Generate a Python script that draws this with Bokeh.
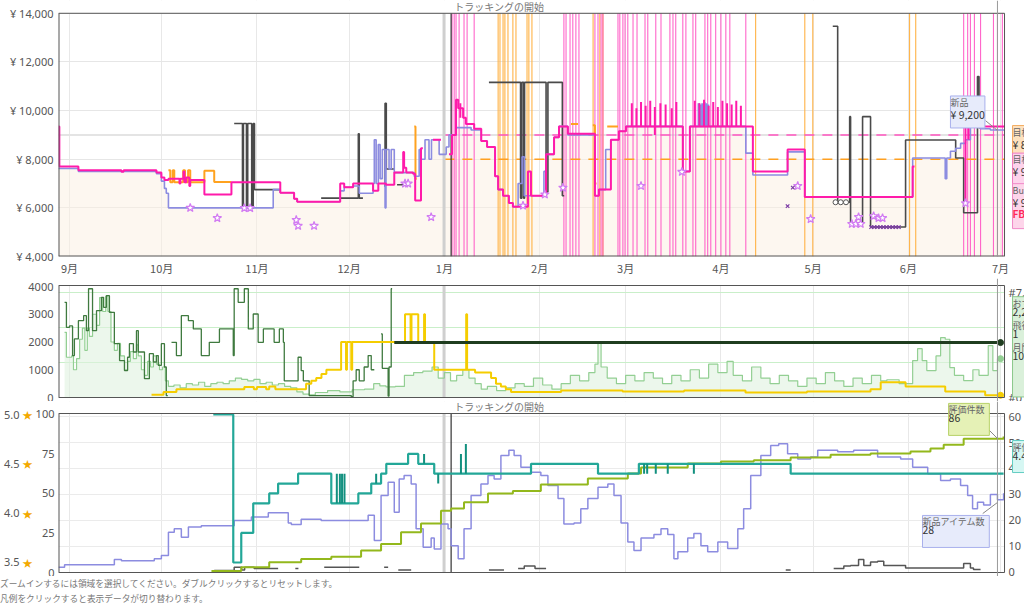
import pandas as pd
from bokeh.plotting import figure
from bokeh.layouts import column
from bokeh.models import (Range1d, FixedTicker, Label, Grid, Span, BoxAnnotation, LinearAxis,
                          CustomJSTickFormatter, Div)
from bokeh.embed import file_html
from bokeh.resources import INLINE

nan = float("nan")

# ---------------- time axis ----------------
month_labels = ["9月", "10月", "11月", "12月", "1月", "2月", "3月", "4月", "5月", "6月", "7月"]
month_starts = pd.date_range("2022-09-01", "2023-07-01", freq="MS")
month_days = [int((d - month_starts[0]).days) for d in month_starts]
X_START, X_FRAME_END, X_CANVAS_END = -3.576, 304.3, 310.8
tracking_gray_day = 121.9
tracking_day = 124.2
cursor_day = 302.0
target_start_day = 122.0

# ---------------- price panel ----------------
price_ticks = [4000, 6000, 8000, 10000, 12000, 14000]
target_buybox = 9000
target_amazon = 8000

bb_day = [-3.6, -3.3, 2.9, 16.9, 17.6, 28.3, 29.9, 30.9, 32.2, 35.8, 36.1, 37.1, 37.4, 38.0, 39.0, 39.3,
          43.9, 52.7, 68.6, 73.1, 74.1, 88.1, 89.4, 92.3, 98.8, 100.5, 103.0, 105.7, 108.6, 108.9, 109.6,
          111.8, 112.5, 114.4, 115.0, 118.3, 120.9, 123.5, 124.5, 125.8, 126.5, 128.1, 129.0, 131.7, 134.0,
          135.9, 138.5, 139.5, 141.1, 143.0, 144.3, 149.2, 150.2, 155.1, 157.7, 159.3, 162.2, 171.0, 172.3,
          176.2, 178.8, 181.1, 199.6, 201.9, 220.1, 222.4, 233.7, 239.3, 274.4, 275.0, 291.0, 291.6, 304.3]
bb_price = [9350, 7700, 7550, 7480, 7550, 7450, 7250, 7150, 7200, 7000, 7200, 7500, 7050, 7250, 6900, 7150,
            6550, 7050, 6620, 6370, 6250, 7000, 6850, 7000, 6700, 7000, 6950, 7450, 8300, 7650, 7450,
            7400, 6300, 8450, nan, 8800, nan, 8200, 9000, 10450, 10100, 9700, 9450, 9250, 8750,
            8500, 7300, 6750, 6500, 6200, 6050, 7500, 6500, 8200, 8900, 9350, 9050, 6500, 6750,
            8800, 9150, 9350, 7500, 9350, 9350, 7500, 8400, 6450, 7700, nan, 6200, 9350, 9350]
bb_spike_day = [127.2, 183.0, 184.5, 186.0, 187.5, 189.0, 190.5, 192.3, 194.0, 196.0, 197.5, 203.5, 205.0,
                206.5, 208.0, 209.5, 211.0, 212.5, 214.0, 215.5, 217.0, 218.5, 292.6]
bb_spike_low = [9700, 9350, 9350, 9350, 9350, 9350, 9000, 9350, 9350, 9350, 9350, 9350, 9350,
                9350, 9350, 9350, 9350, 9350, 9350, 9350, 9350, 9350, 8800]
bb_spike_high = [10300, 10300, 10100, 10350, 10200, 10400, 10150, 10300, 10250, 10100, 10350, 10400, 10300,
                 10450, 10200, 10350, 10150, 10400, 10300, 10250, 10400, 10200, 9350]

nw_day = [-3.6, 2.9, 28.3, 29.9, 30.9, 31.5, 32.2, 66.3, 68.6, 73.1, 74.1, 88.1, 89.4, 92.3, 94.3, 98.8,
          99.2, 99.8, 100.5, 101.1, 101.8, 102.7, 103.0, 104.0, 104.7, 105.7, 112.2, 113.8, 114.4, 115.7,
          117.0, 117.8, 120.3, 122.6, 123.5, 125.8, 130.7, 134.0, 135.9, 138.5, 139.5, 141.1, 143.0, 144.3,
          146.0, 147.3, 148.0, 154.4, 155.1, 157.7, 159.3, 162.2, 171.0, 172.3, 174.5, 176.2, 178.8, 181.1,
          199.6, 201.9, 220.1, 222.4, 233.7, 239.3, 274.4, 285.0, 285.5, 286.7, 288.4, 290.0, 291.6, 293.2,
          296.5, 299.7, 304.3]
nw_price = [7620, 7500, 7400, 7100, 6800, 6600, 6000, 6750, 6620, 6370, 6250, 6700, 6850, 6900, 6600, 7000,
            8800, 7000, 8600, 7200, 8400, 6000, 8400, 7600, 8400, 7450, 7300, 8400, 8000, 8800,
            8000, 8800, 8200, 8500, 9000, 9300, 9200, 8750, 8500, 7300, 6750, 6500, 6200, 6050,
            7000, 8100, 6500, 7500, 8200, 8900, 9350, 9000, 6500, 6750, 8400, 8800, 9150, 9350,
            7500, 9350, 8250, 7350, 8300, 6450, 8050, 7200, 8050, 8330, 8450, 8650, 8800, 9400,
            9250, 9200, 9200]
nw_spike_day = [204.8, 205.4, 206.0, 206.6, 207.2, 207.8]
nw_spike_high = [10300, 10250, 10300, 10350, 10300, 10250]

us_day = [53.6, 56.3, 56.6, 57.6, 58.0, 59.3, 59.8, 60.2, 68.5, 81.9, 94.0, 94.3, 95.5, 102.4, 102.7, 103.1,
          105.7, 106.6, 110.5, 136.5, 146.8, 147.2, 147.8, 148.1, 155.1, 155.7, 160.4, 161.0, 248.4, 250.0,
          253.9, 254.2, 258.1, 260.7, 272.1, 288.4, 291.0, 295.5, 296.0, 297.0]
us_price = [9470, 6000, 9470, 6000, 9470, 6000, 9470, 6750, nan, 6400, 9050, 6400, nan, 6900, 10300, 7600,
            nan, 6950, nan, 11160, 6400, 11160, 6400, 11160, 6650, 11160, 6500, nan, 13470, 6230,
            9750, 5340, 9750, 5210, 8790, 8050, 5800, 11400, 9300, nan]

az_day = [32.2, 32.8, 33.6, 34.1, 37.0, 37.6, 38.6, 39.3, 43.9, 47.1, 52.7, 112.2, 112.6, 113.0,
          163.2, 165.5, 170.3, 171.0, 171.5, 175.0, 178.5]
az_price = [7550, 7050, 7550, 7050, 7550, 7050, 7550, 7050, 7530, 7060, nan, 9350, 7200, nan,
            9450, nan, 9400, 7000, nan, 9350, nan]

pink_event_days = [124.5, 125.2, 125.8, 126.8, 128.4, 129.4, 131.7, 160.9, 161.6, 162.9, 163.8, 164.8, 165.8,
                   171.0, 172.0, 173.0, 173.6, 178.5, 179.1, 180.1, 180.8, 181.7, 183.4, 184.7, 187.3, 188.2,
                   190.8, 192.5, 195.4, 196.4, 197.3, 199.6, 200.6, 202.9, 203.8, 206.8, 207.7, 208.7, 210.3,
                   212.0, 213.6, 214.9, 220.1, 291.0, 292.3, 293.2, 294.5, 296.5, 300.7, 302.0, 303.6]
orange_event_days = [139.5, 140.1, 141.1, 141.7, 142.7, 144.3, 145.3, 148.9, 149.5, 150.5, 170.4, 172.6,
                     173.6, 223.3, 239.3, 241.9, 273.4, 275.4]

cp_day = [39.3, 48.1, 56.9, 58.8, 73.8, 74.4, 79.6, 109.2, 110.2, 117.7, 147.6, 154.7, 160.6, 186.0, 199.3,
          237.0, 241.2, 254.6, 255.9, 257.5, 256.8, 261.7, 263.3, 264.6, 291.6]
cp_price = [6000, 5580, 5990, 5990, 5500, 5260, 5260, 7000, 7000, 5620, 6090, 6550, 6830, 6900, 7480,
            6900, 5540, 5340, 5340, 5340, 5620, 5660, 5580, 5580, 6190]
ld_day = [233.7, 235.4, 260.9, 261.9, 262.9, 263.9, 264.9, 265.9, 266.9, 267.9, 268.9, 269.9]
ld_price = [6070, 6830, 5210, 5210, 5210, 5210, 5210, 5210, 5210, 5210, 5210, 5210]
uo_day = [249.3, 251.0, 252.7]
uo_price = [6230, 6230, 6230]

# ---------------- rank / offers panel ----------------
mid_ticks = [0, 1000, 2000, 3000, 4000]
mid_right_ticks = [2500, 5000, 7500]

rk_day = [-1.6, -1.0, 0.7, 1.3, 2.3, 3.3, 4.2, 5.0, 5.8, 6.5, 7.5, 8.8, 9.8, 10.8, 11.8, 12.5, 13.5, 14.6,
          15.6, 16.6, 17.9, 18.9, 19.8, 20.8, 21.8, 22.4, 23.4, 24.4, 25.4, 26.4, 27.3, 28.3, 29.3, 30.3,
          31.2, 32.2, 34, 36, 38, 40, 42, 44, 46, 48, 50, 52, 54, 56, 58, 60, 62, 64, 66, 68, 70, 72, 74,
          76, 78, 80, 84, 88, 92, 96, 99, 101, 103, 106, 109, 112, 115, 118, 120, 122, 124, 126, 128, 130,
          132, 134, 136, 139, 142, 145, 148, 151, 154, 157, 160, 163, 166, 169, 171, 172, 173, 175, 178,
          181, 184, 187, 190, 193, 196, 199, 202, 205, 208, 211, 214, 216, 219, 222, 225, 228, 231, 234,
          237, 240, 243, 246, 249, 252, 255, 258, 261, 264, 266, 270, 274.4, 276, 277.5, 279, 282, 283.5,
          285, 286.5, 288, 291, 294, 296, 299, 300.5, 302, 303]
rk_val = [2350, 1450, 1500, 1000, 1400, 2100, 2500, 1700, 2500, 2200, 3000, 2600, 3600, 3100, 3650, 3100,
          2000, 1700, 1950, 1500, 1000, 1300, 1650, 1400, 1900, 1500, 1000, 800, 1300, 1100, 1500, 1200,
          1000, 1100, 600, 400, 450, 350, 500, 450, 550, 400, 500, 550, 500, 600, 700, 650, 600, 650, 500,
          550, 450, 500, 400, 350, 200, 120, 100, 180, 250, 200, 280, 300, 500, 420, 380, 400, 800, 900,
          950, 1100, 700, 900, 600, 800, 1000, 700, 500, 300, 400, 250, 350, 500, 400, 700, 450, 300, 500,
          800, 600, 900, 1200, 2000, 1100, 700, 500, 800, 600, 900, 700, 500, 800, 600, 1000, 700, 1200,
          900, 1300, 800, 600, 1100, 700, 500, 800, 600, 400, 700, 500, 900, 600, 400, 700, 500, 800, 600,
          640, 500, 1330, 1760, 1330, 970, 1500, 2160, 2100, 1080, 800, 610, 1000, 800, 1870, 970, 1400, 1400]

of_day = [-1.6, -1.0, 0.0, 1.0, 1.6, 2.9, 4.6, 5.5, 6.2, 7.5, 8.8, 10.4, 11.1, 12.0, 13.0, 14.6, 16.3, 17.9,
          18.9, 19.5, 20.8, 21.8, 22.4, 24.4, 26.0, 27.3, 28.3, 28.9, 29.9, 30.9, 31.5, 32.0, 33.2, 34.8,
          36.4, 38.7, 40.3, 42.9, 45.5, 48.8, 53.3, 53.6, 54.9, 56.9, 58.2, 59.8, 61.4, 63.1, 66.6, 68.3,
          69.6, 69.9, 74.4, 75.4, 76.1, 78.0, 91.7, 92.3, 93.3, 94.3, 95.9, 97.2, 98.2, 99.2, 101.4, 101.8,
          103.7, 104.0, 104.7, 105.0]
of_val = [3430, 2530, 2580, 1510, 2110, 2770, 2950, 2410, 3920, 2410, 3130, 3610, 3250, 3670, 3070, 1940,
          1330, 970, 1450, 1940, 1640, 2410, 1640, 680, 1580, 1280, 1510, 1160, 1940, 1100, 70, nan, 1990,
          1510, 2950, 2770, 2470, 1510, 1990, 2470, 1510, 3920, 3430, 3920, 2470, 3010, 1990, 2470, 1990,
          2470, 1990, 600, 1450, 970, 600, 70, 30, 600, 1000, 600, 1100, 1510, 1000, nan, 2290, 1050, 50,
          1100, 3920, nan]

bx_day = [105.7, 303.0]
bx_val = [1980, 1980]

ye_day = [26.7, 30.6, 34.8, 56.9, 60.0, 61.0, 64.0, 65.0, 67.0, 72.2, 77.0, 78.7, 80.3, 82.0, 83.6, 88.4,
          90.0, 90.3, 91.7, 92.0, 109.2, 111.0, 111.3, 113.5, 115.4, 115.7, 118.7, 129.1, 129.4, 132.0,
          137.2, 138.8, 140.4, 142.0, 143.7, 160.0, 180.0, 200.0, 220.0, 240.0, 260.7, 264.0, 272.1,
          285.0, 298.0, 303.0]
ye_val = [100, 200, 300, 380, 300, 380, 300, 400, 300, 300, 500, 600, 700, 850, 1000, 2000,
          1000, 2000, 1000, 2000, 3000, 2000, 3000, 2000, 3000, 2000, 1000, 3000, 1000, 900,
          700, 500, 400, 300, 200, 250, 220, 250, 180, 220, 300, 550, 400,
          220, 80, 80]

# ---------------- rating / offer-count panel ----------------
left_ticks = [0, 25, 50, 75, 100]
right_ticks = [0, 10, 20, 30, 40, 50, 60]
star_ticks = [3.5, 4.0, 4.5, 5.0]

rt_day = [46.8, 53.3, 55.9, 59.8, 65.0, 67.9, 74.4, 85.2, 94.0, 98.2, 101.4, 103.1, 110.2, 113.5, 118.7,
          150.2, 172.0, 185.3, 234.7, 304.0]
rt_val = [5.0, 3.5, 3.8, 4.1, 4.2, 4.3, 4.4, 4.1, 4.2, 4.3, 4.4, 4.5, 4.6, 4.5, 4.4,
          4.5, 4.4, 4.5, 4.4, 4.4]
rt_spike_day = [87.0, 88.0, 88.7, 89.5, 99.8, 115.4, 120.0, 127.4, 129.0, 187.0, 188.0, 190.8, 194.7, 203.2]
rt_spike_lo = [4.1, 4.1, 4.1, 4.1, 4.3, 4.5, 4.3, 4.4, 4.4, 4.4, 4.4, 4.4, 4.4, 4.4]
rt_spike_hi = [4.4, 4.4, 4.4, 4.4, 4.4, 4.6, 4.4, 4.6, 4.7, 4.5, 4.5, 4.5, 4.5, 4.5]

rc_day = [46.2, 55.9, 65.0, 75.4, 85.2, 94.9, 101.4, 107.9, 114.4, 120.9, 124.2, 128.4, 136.2, 144.3,
          153.4, 168.7, 181.7, 186.0, 201.2, 212.0, 222.7, 234.7, 247.7, 260.7, 273.7, 280.2, 284.5,
          291.0, 304.0]
rc_val = [1, 3.4, 6.5, 8.6, 10, 14, 18, 25.5, 31, 39, 40.5, 44.5, 50, 51.5,
          55.7, 59.5, 62.7, 66.5, 69, 70.3, 71, 72.8, 74.5, 75.3, 76.6, 78.5, 80.8,
          84.6, 86]

oc_day = [-3.6, -1.6, 14.6, 16.9, 27.6, 29.9, 32.2, 34.1, 36.4, 38.7, 42.9, 52.7, 53.6, 59.2, 64.7, 71.2,
          72.2, 75.4, 81.9, 97.2, 99.2, 101.4, 103.7, 105.7, 107.3, 108.9, 111.2, 112.8, 115.1, 117.7,
          118.7, 120.9, 123.2, 124.2, 126.5, 128.4, 130.7, 133.9, 136.2, 138.2, 140.4, 143.0, 144.7, 146.9,
          150.2, 153.4, 155.7, 159.0, 160.9, 164.2, 166.4, 168.7, 172.0, 175.2, 177.2, 179.5, 181.7, 183.7,
          186.0, 190.2, 192.5, 194.7, 196.7, 198.0, 201.2, 203.2, 205.5, 207.7, 211.0, 214.2, 217.5, 219.4,
          221.7, 225.0, 228.2, 230.8, 233.7, 237.0, 241.2, 243.5, 250.0, 255.2, 260.7, 263.0, 270.5, 274.4,
          279.3, 283.5, 286.7, 290.0, 292.3, 293.9, 295.5, 297.5, 299.7, 302.0, 304.0]
oc_val = [2, 3, 5, 4.5, 5.3, 6.5, 15.5, 16.8, 13.6, 17.5, 18, 18, 20, 21.3, 23, 19,
          18.5, 20.5, 20, 22, 12.3, 29.6, 34.7, 23.2, 36, 37.3, 34, 16.8, 9.7, 13.3,
          9, 18.7, 16.8, 10.3, 5.3, 16.8, 29.6, 34, 37.3, 36, 45, 47, 45, 40.5,
          38.6, 37.3, 33.5, 28.5, 18.7, 19, 24.5, 28.5, 32.8, 34, 29.6, 19, 11.7, 8.5,
          13.3, 14.6, 16.8, 14.6, 5.3, 8, 13.3, 15, 10.3, 8, 11.7, 9.2, 16.8, 24.5,
          37.3, 45, 48.8, 49.5, 45.7, 43.7, 44.4, 47, 46.4, 47, 47, 44.4, 43.7, 40.5,
          38, 35.4, 36, 33.5, 29.6, 24.5, 27, 26, 30, 28, 30.5]

uc_day = [47.1, 53.6, 56.0, 57.0, 60.1, 67.9, 73.5, 74.5, 82.9, 94.3, 102.4, 103.7, 107.0, 111.2, 136.5,
          141.4, 146.0, 148.0, 151.5, 155.1, 233.1, 234.7, 248.7, 252.0, 254.2, 256.8, 258.5, 260.7, 263.0,
          265.0, 272.1, 291.0, 293.2, 294.2, 296.5]
uc_val = [0.8, 2.0, 1.0, 2.0, 1.5, nan, 1.5, nan, 2.0, nan, 2.0, nan, 1.0, nan, 1.0,
          nan, 1.5, 2.5, 1.5, nan, 1.0, nan, 1.5, 2.5, 2.7, 5.0, 2.7, 4.0, 4.3,
          2.7, 1.7, 3.5, 1.7, 1.2, nan]

footer_lines = ["ズームインするには領域を選択してください。ダブルクリックするとリセットします。",
                "凡例をクリックすると表示データが切り替わります。"]

FONT = "Noto Sans"
JFONT = "Noto Sans CJK JP"
TICK = "#555555"
EDGE = "#555555"
xr = Range1d(X_START, X_CANVAS_END)


def steps(d, v):
    xs, ys = [], []
    for i in range(len(d) - 1):
        xs += [d[i], d[i + 1]]
        ys += [v[i], v[i]]
    xs.append(d[-1])
    ys.append(v[-1])
    return xs, ys


def style_axis(ax, font=FONT, standoff=5, size="11px"):
    ax.axis_line_color = None
    ax.major_tick_line_color = None
    ax.minor_tick_line_color = None
    ax.major_tick_out = 0
    ax.major_tick_in = 0
    ax.minor_tick_out = 0
    ax.minor_tick_in = 0
    ax.axis_label_standoff = 0
    ax.major_label_text_font = font
    ax.major_label_text_font_size = size
    ax.major_label_text_color = TICK
    ax.major_label_standoff = standoff


def base_fig(height, y_range, bottom, xaxis=True):
    p = figure(width=1024, height=height, x_range=xr, y_range=y_range,
               output_backend="svg", toolbar_location=None,
               x_axis_location="below" if xaxis else None,
               min_border_left=57, min_border_right=0,
               min_border_top=0, min_border_bottom=bottom)
    p.outline_line_color = None
    p.background_fill_color = "white"
    p.border_fill_color = "white"
    for ax in p.axis:
        style_axis(ax)
    p.xgrid.ticker = FixedTicker(ticks=month_days)
    p.xgrid.grid_line_color = "#e8e8e8"
    return p


def frame_box(p, y_lo, y_hi, bottom_on_edge=False):
    for kw in (dict(left=X_FRAME_END), dict(bottom=y_hi), dict(top=y_lo)):
        p.add_layout(BoxAnnotation(fill_color="white", fill_alpha=1.0, line_color=None,
                                   level="underlay", **kw))
    p.segment(x0=[X_START, X_FRAME_END, X_START, X_START], y0=[y_lo, y_lo, y_lo, y_hi],
              x1=[X_START, X_FRAME_END, X_FRAME_END, X_FRAME_END], y1=[y_hi, y_hi, y_lo, y_hi],
              line_color=EDGE, line_width=[2, 1, 2 if bottom_on_edge else 1, 1])


def vline(p, day, y_lo, y_hi, color, width):
    p.segment(x0=day, y0=y_lo, x1=day, y1=y_hi, line_color=color, line_width=width)


def text(p, x, y, s, color="#444444", size=10, font=JFONT, align="left", baseline="middle",
         yname="default", style="normal", yoff=0):
    p.add_layout(Label(x=x, y=y, y_range_name=yname, text=s, text_color=color,
                       text_font=font, text_font_size=f"{size}px", text_align=align,
                       text_baseline=baseline, text_font_style=style, y_offset=yoff))


def info_box(p, x, y, lines, colors, sizes, fill, border, yname="default", styles=None,
             box_font=8.7, box_lh=1.0):
    p.add_layout(Label(x=x, y=y, y_range_name=yname, text="\n".join(lines), text_color=fill,
                       text_font=JFONT, text_font_size=f"{box_font}px", text_line_height=box_lh,
                       text_align="left", text_baseline="top",
                       background_fill_color=fill, border_line_color=border,
                       border_line_width=1, padding=3))
    off = 0
    for i, (s, c, sz) in enumerate(zip(lines, colors, sizes)):
        st = styles[i] if styles else "normal"
        text(p, x, y, s, color=c, size=sz, baseline="top", yname=yname, style=st, yoff=-off)
        off += 11


# ================= panel 1: prices =================
P1_TOP = 14526
p1 = base_fig(278, Range1d(4000, P1_TOP), 18)
p1.yaxis.ticker = FixedTicker(ticks=price_ticks)
p1.yaxis.major_label_overrides = {t: f"¥ {t:,}" for t in price_ticks}
p1.xaxis.ticker = FixedTicker(ticks=month_days)
p1.xaxis.major_label_overrides = dict(zip(month_days, month_labels))
p1.xaxis.major_label_text_font = JFONT
p1.xaxis.major_label_standoff = 3
p1.ygrid.ticker = FixedTicker(ticks=price_ticks)
p1.ygrid.grid_line_color = "#e6e6e6"

nx, ny = steps(nw_day, nw_price)
p1.varea(x=nx, y1=4000, y2=ny, fill_color="#fbefe2", fill_alpha=0.5)
p1.segment(x0=X_START, y0=target_buybox, x1=X_FRAME_END, y1=target_buybox,
           line_color="#e4e4e4", line_width=2)

p1.segment(x0=orange_event_days, y0=4000, x1=orange_event_days, y1=14000,
           line_color="#ffb347", line_width=1.1)
p1.segment(x0=pink_event_days, y0=4000, x1=pink_event_days, y1=14000,
           line_color="#ff55c4", line_width=1.1, line_alpha=0.9)

p1.segment(x0=target_start_day, y0=target_buybox, x1=X_FRAME_END, y1=target_buybox,
           line_color="#ff55c0", line_width=1.5, line_dash="10 8")
p1.segment(x0=target_start_day, y0=target_amazon, x1=X_FRAME_END, y1=target_amazon,
           line_color="#ffa020", line_width=1.5, line_dash="10 8")

vline(p1, tracking_gray_day, 4000, 14000, "#cfcfcf", 3)
vline(p1, tracking_day, 4000, 14000, "#333333", 1.2)

ux, uy = steps(us_day, us_price)
p1.line(ux, uy, line_color="#4a4a4a", line_width=1.6)
ax_, ay_ = steps(az_day, az_price)
p1.line(ax_, ay_, line_color="#ffa21f", line_width=2)
p1.line(nx, ny, line_color="#8c8ce0", line_width=1.6)
p1.segment(x0=nw_spike_day, y0=9350, x1=nw_spike_day, y1=nw_spike_high,
           line_color="#8c8ce0", line_width=2.5)
bx_, by_ = steps(bb_day, bb_price)
p1.line(bx_, by_, line_color="#ff1aaa", line_width=2)
p1.segment(x0=bb_spike_day, y0=bb_spike_low, x1=bb_spike_day, y1=bb_spike_high,
           line_color="#ff1aaa", line_width=2)

p1.scatter(cp_day, cp_price, marker="star", size=9, fill_color="white",
           line_color="#d27cf2", line_width=1.2)
p1.scatter(ld_day, ld_price, marker="x", size=5, line_color="#7b3aa5", line_width=1.2)
p1.scatter(uo_day, uo_price, marker="circle", size=5, fill_color="white",
           line_color="#555555", line_width=1)
p1.line([298.1, 302.0], [9588, 9183], line_color="#888888", line_width=1)

frame_box(p1, 4000, 14000, bottom_on_edge=True)
p1.add_layout(Span(location=cursor_day, dimension="height", line_color="#999999", line_width=1))

text(p1, 125.2, 14290, "トラッキングの開始", color="#777777", size=10)
info_box(p1, 286.7, 10600, ["新品", "¥ 9,200"], ["#666666", "#333333"], [9, 10.5],
         "#e7ebfb", "#a8b0ec")
info_box(p1, 306.9, 9385, ["目標", "¥ 8"], ["#666666", "#333333"], [9, 10.5], "#fde1bf", "#f3ad62")
info_box(p1, 306.9, 8251, ["目標", "¥ 9"], ["#666666", "#333333"], [9, 10.5], "#fdd3ec", "#f07cc0")
info_box(p1, 306.9, 6996, ["Buy", "¥ 9", "FBA"], ["#666666", "#333333", "#ff2a5a"], [9, 10.5, 10],
         "#fdd5ea", "#f08ac8", styles=["normal", "normal", "bold"])

# ================= panel 2: rank / offers =================
p2 = base_fig(123, Range1d(-144.1, 4288.5), 0, xaxis=False)
p2.extra_y_ranges = {"r": Range1d(-285.7, 8500)}
p2.yaxis.ticker = FixedTicker(ticks=mid_ticks)
p2.ygrid.grid_line_color = None
p2.add_layout(Grid(dimension=1, ticker=FixedTicker(ticks=mid_right_ticks), y_range_name="r",
                   grid_line_color="#c9efc9"))

rx, ry = steps(rk_day, rk_val)
p2.varea(x=rx, y1=0, y2=ry, fill_color="#dff2df", fill_alpha=0.6)
vline(p2, tracking_gray_day, 0, 4036, "#cfcfcf", 3)
p2.line(rx, ry, line_color="#93cf93", line_width=1.2)
ox, oy = steps(of_day, of_val)
p2.line(ox, oy, line_color="#3f7a3f", line_width=1.3)
yx, yy = steps(ye_day, ye_val)
p2.line(yx, yy, line_color="#f5cd00", line_width=2)
p2.line(bx_day, bx_val, line_color="#1f3d1f", line_width=3)
p2.scatter([bx_day[-1]], [bx_val[-1]], size=6, fill_color="#1f3d1f", line_color="#1f3d1f")
p2.scatter([ye_day[-1]], [ye_val[-1]], size=6, fill_color="#f5cd00", line_color="#f5cd00")
p2.scatter([rk_day[-1]], [rk_val[-1]], size=6, fill_color="#93cf93", line_color="#93cf93")
frame_box(p2, 0, 4036)
p2.add_layout(Span(location=cursor_day, dimension="height", line_color="#999999", line_width=1))

text(p2, 305.6, 7500, "#7,500", color=TICK, size=11, font=FONT, yname="r")
text(p2, 305.6, 0, "#0", color=TICK, size=11, font=FONT, yname="r")
info_box(p2, 306.9, 7200, ["おす", "2,2", "飛行", "1", "月間", "10"],
         ["#666666", "#333333", "#666666", "#333333", "#666666", "#333333"],
         [9, 10.5, 9, 10.5, 9, 10.5], "#daf0da", "#8cc98c", yname="r", box_lh=1.25)

# ================= panel 3: ratings / counts =================
p3 = base_fig(175, Range1d(-2.53, 108.2), 0, xaxis=False)
p3.extra_y_ranges = {"r": Range1d(-1.54, 65.77), "stars": Range1d(3.358, 5.1318)}
p3.yaxis.ticker = FixedTicker(ticks=left_ticks)
p3.yaxis.major_label_standoff = 4
star_icon_axis = LinearAxis(y_range_name="stars", ticker=FixedTicker(ticks=star_ticks),
                            formatter=CustomJSTickFormatter(code="return '★'"))
style_axis(star_icon_axis, font=JFONT, standoff=0, size="10px")
star_icon_axis.major_label_text_color = "#f3a900"
p3.add_layout(star_icon_axis, "left")
star_num_axis = LinearAxis(y_range_name="stars", ticker=FixedTicker(ticks=star_ticks),
                           formatter=CustomJSTickFormatter(code="return tick.toFixed(1)"))
style_axis(star_num_axis, standoff=0)
p3.add_layout(star_num_axis, "left")
p3.ygrid.grid_line_color = None
p3.add_layout(Grid(dimension=1, ticker=FixedTicker(ticks=right_ticks[1:]), y_range_name="r",
                   grid_line_color="#ebebeb"))

vline(p3, tracking_gray_day, 0, 100.6, "#cfcfcf", 3)
vline(p3, tracking_day, 0, 100.6, "#333333", 1.2)

cx, cy = steps(uc_day, uc_val)
p3.line(cx, cy, line_color="#555555", line_width=1.5, y_range_name="r")
ocx, ocy = steps(oc_day, oc_val)
p3.line(ocx, ocy, line_color="#8c8ce0", line_width=1.5, y_range_name="r")
gx, gy = steps(rc_day, rc_val)
p3.line(gx, gy, line_color="#93b81c", line_width=2)
tx, ty = steps(rt_day, rt_val)
p3.line(tx, ty, line_color="#23a798", line_width=2.2, y_range_name="stars")
p3.segment(x0=rt_spike_day, y0=rt_spike_lo, x1=rt_spike_day, y1=rt_spike_hi,
           line_color="#12907f", line_width=2, y_range_name="stars")
p3.line([298.1, 302.0], [92.4, 84.8], line_color="#888888", line_width=1)
p3.line([297.2, 302.0], [37.3, 44.3], line_color="#888888", line_width=1)
frame_box(p3, 0, 100.6)
p3.add_layout(Span(location=cursor_day, dimension="height", line_color="#999999", line_width=1))

for t in right_ticks:
    text(p3, 305.6, t, str(t), color=TICK, size=11, font=FONT, yname="r")
text(p3, 125.2, 105.0, "トラッキングの開始", color="#777777", size=10)
info_box(p3, 286.1, 107.0, ["評価件数", f"{rc_val[-1]:.0f}"], ["#666666", "#333333"], [9, 10.5],
         "#e5f1b6", "#b7d168")
info_box(p3, 277.6, 36.1, ["新品アイテム数", "28"], ["#666666", "#333333"], [9, 10.5],
         "#e7ebfb", "#a8b0ec")
info_box(p3, 306.9, 83.5, ["評価", f"{rt_val[-1]:.1f}"], ["#666666", "#333333"], [9, 10.5],
         "#d6f7f3", "#62cdc3")

footer = Div(text="<br>".join(footer_lines), width=1024, height=30,
             styles={"font-family": JFONT, "font-size": "8.7px", "color": "#777777",
                     "line-height": "15px", "margin": "0", "padding": "0"})

layout = column(p1, p2, p3, footer)
open("out.html", "w").write(file_html(layout, INLINE))
